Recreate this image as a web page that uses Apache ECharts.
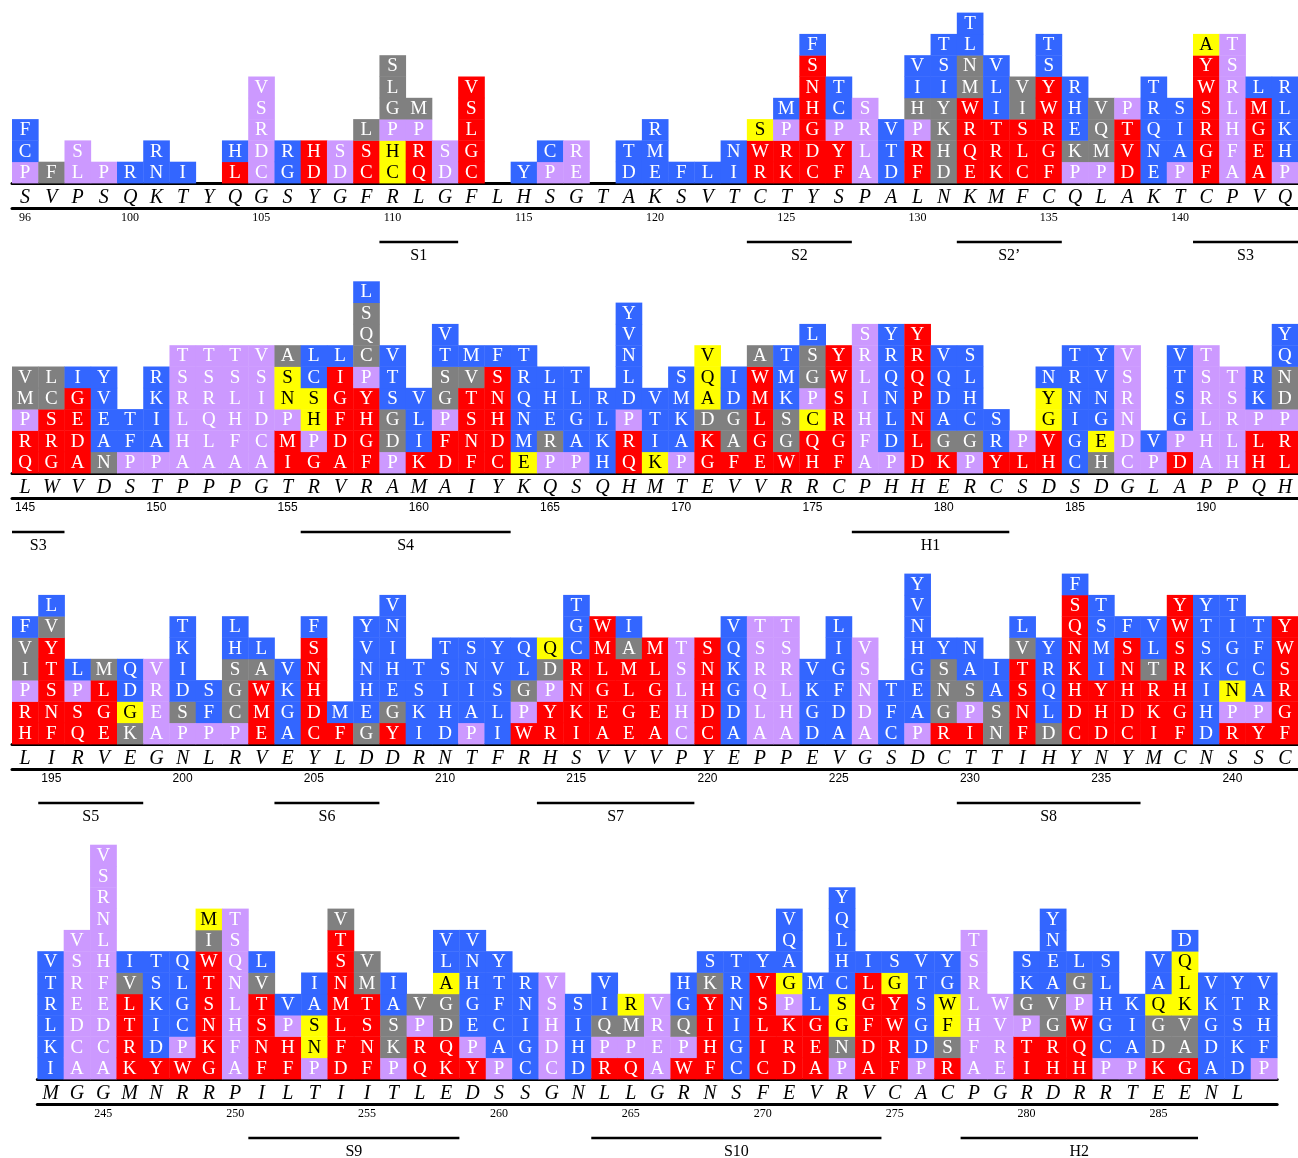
<!DOCTYPE html>
<html><head><meta charset="utf-8">
<script src="https://cdn.jsdelivr.net/npm/echarts/dist/echarts.min.js"></script>
<style>html,body{margin:0;padding:0;background:#fff}#c{width:1298px;height:1158px}</style>
</head><body><div id="c"></div>
<script>
// ---------- DATA ----------
const seq1 = "SVPSQKTYQGSYGFRLGFLHSGTAKSVTCTYSPALNKMFCQLAKTCPVQ".split("");
const seq2 = "LWVDSTPPPGTRVRAMAIYKQSQHMTEVVRRCPHHERCSDSDGLAPPQH".split("");
const seq3 = "LIRVEGNLRVEYLDDRNTFRHSVVVPYEPPEVGSDCTTIHYNYMCNSSC".split("");
const seq4 = "MGGMNRRPILTIITLEDSSGNLLGRNSFEVRVCACPGRDRRTEENL".split("").concat([""]);

const startRes = [96, 145, 194, 243];

const ticks1 = [96, 100, 105, 110, 115, 120, 125, 130, 135, 140];
const ticks2 = [145, 150, 155, 160, 165, 170, 175, 180, 185, 190];
const ticks3 = [195, 200, 205, 210, 215, 220, 225, 230, 235, 240];
const ticks4 = [245, 250, 255, 260, 265, 270, 275, 280, 285];

// stacks: letters bottom -> top, each letter followed by class code (b,r,p,g,y)
const stacks1 = ["Pp Cb Fb","Fg","Lp Sp","Pp","Rb","Nb Rb","Ib","","Lr Hb","Cp Dp Rp Sp Vp",
"Gb Rb","Dr Hr","Dp Sp","Cr Sr Lg","Cy Hy Pp Gg Lg Sg","Qr Rr Pp Mg","Dp Sp","Cr Gr Lr Sr Vr","","Yb",
"Pp Cb","Ep Rp","","Db Tb","Eb Mb Rb","Fb","Lb","Ib Nb","Rr Wr Sy","Kr Rr Pp Mb",
"Cr Dr Gr Hr Nr Sr Fb","Fr Yr Pp Cb Tb","Ap Lp Rp Sp","Db Tb Vb","Fr Rr Pp Hg Ib Vb","Dg Hg Kg Yg Ib Sb Tb","Er Qr Rr Wr Mg Ng Lb Tb","Kr Rr Tr Ib Lb Vb","Cr Lr Sr Ig Vg","Fr Gr Rr Wr Yr Sb Tb",
"Pp Kg Eb Hb Rb","Pp Mg Qg Vg","Dr Vr Tr Pp","Eb Nb Qb Rb Tb","Pp Ab Ib Sb","Fr Gr Rr Sr Wr Yr Ay","Ap Fp Hp Lp Rp Sp Tp","Ar Er Gr Mr Lb","Pp Hb Kb Lb Rb"];

const stacks2 = ["Qr Rr Pp Mg Vg","Gr Rr Sr Cg Lg","Ar Dr Er Gr Ib","Ng Ab Eb Vb Yb","Pp Fb Tb","Pp Ab Ib Kb Rb","Ap Hp Lp Rp Sp Tp","Ap Lp Qp Rp Sp Tp","Ap Fp Hp Lp Sp Tp","Ap Cp Dp Ip Sp Vp",
"Ir Mr Pp Ny Sy Ag","Gr Pp Hy Sy Cb Lb","Ar Dr Fr Gr Ir Lb","Fr Gr Hr Yr Pp Cg Qg Sg Lb","Pp Dg Gg Sb Tb Vb","Kr Ib Lb Vb","Dr Fr Pp Gg Sg Tb Vb","Fr Nr Sr Tr Vg Mb","Cr Dr Hr Nr Sr Fb","Ey Mb Nb Qb Rb Tb",
"Pp Rg Eb Hb Lb","Pp Ab Gb Lb Tb","Hb Kb Lb Rb","Qr Rr Pp Db Lb Nb Vb Yb","Ky Ib Tb Vb","Pp Ab Kb Mb Sb","Gr Kr Dg Ay Qy Vy","Fr Ag Gg Db Ib","Er Gr Lr Mr Wr Ag","Wr Gg Sg Kb Mb Tb",
"Hr Qr Cy Pp Gg Sg Lb","Fr Gr Rr Sr Wr Yr","Ap Fp Hp Ip Lp Rp Sp","Pp Db Lb Nb Qb Rb Yb","Dr Lr Nr Pr Qr Rr Yr","Kr Gg Ab Db Qb Vb","Pp Gg Cb Hb Lb Sb","Yr Rb Sb","Lr Pp","Hr Vr Gy Yy Nb",
"Cb Gb Ib Nb Rb Tb","Hg Ey Gb Nb Vb Yb","Cp Dp Np Rp Sp Vp","Pp Vb","Dr Pp Gb Sb Tb Vb","Ap Hp Lp Rp Sp Tp","Hp Lp Rp Sp Tp","Hr Lr Pp Kb Rb","Lr Rr Pp Dg Ng Qb Yb"];

const stacks3 = ["Hr Rr Pp Ig Vg Fb","Fr Nr Sr Tr Yr Vg Lb","Qr Sr Pp Lb","Er Gr Lr Mg","Kg Gy Db Qb","Ap Ep Rp Vp","Pp Sg Db Ib Kb Tb","Pp Fb Sb","Pp Cg Gg Sg Hb Lb","Er Mr Wr Ag Lb",
"Ab Gb Kb Vb","Cr Dr Hr Nr Sr Fb","Fr Mb","Gg Eb Hb Nb Vb Yb","Yr Gg Eb Hb Ib Nb Vb","Ib Kb Sb Tb","Db Hb Ib Sb Tb","Pp Ab Ib Nb Sb","Ib Lb Sb Vb Yb","Wr Pp Gg Lb Qb",
"Rr Yr Pp Dg Qy","Ir Kr Nr Rr Cb Gb Tb","Ar Er Gr Lr Mr Wr","Er Gr Lr Mr Ag Ib","Ar Er Gr Lr Mr","Cp Hp Lp Sp Tp","Cr Dr Hr Nr Sr","Ab Db Gb Kb Qb Vb","Ap Lp Qp Rp Sp Tp","Ap Hp Lp Rp Sp Tp",
"Db Gb Kb Vb","Ab Db Fb Gb Ib Lb","Ap Dp Np Sp Vp","Cb Fb Tb","Pp Ab Eb Gb Hb Nb Vb Yb","Rr Gg Ng Sg Yb","Ir Pp Sg Ab Nb","Ng Sg Ab Ib","Fr Nr Sr Tr Vg Lb","Dg Lb Qb Rb Yb",
"Cr Dr Hr Kr Nr Qr Sr Fb","Dr Hr Yr Ib Mb Sb Tb","Cr Dr Hr Nr Sr Fb","Ir Kr Rr Tg Lb Vb","Fr Gr Hr Rr Sr Wr Yr","Db Hb Ib Kb Sb Tb Yb","Rr Pp Ny Cb Gb Ib Tb","Yr Pp Ab Cb Fb Tb","Fr Gr Rr Sr Wr Yr"];

const stacks4 = ["Ib Kb Lb Rb Tb Vb","Ap Cp Dp Ep Rp Sp Vp","Ap Cp Dp Ep Fp Hp Lp Np Rp Sp Vp","Kr Rr Tr Lr Vg Ib","Yr Db Ib Kb Sb Tb","Wr Pp Cb Gb Lb Qb","Gr Kr Nr Sr Tr Wr Ig My","Ap Fp Hp Lp Np Qp Sp Tp","Fr Nr Sr Tr Vg Lb","Fr Hr Pp Vb",
"Pp Ny Sy Ab Ib","Dr Fr Lr Mr Nr Sr Tr Vg","Fr Nr Sr Tr Mg Vg","Pp Kg Sg Ab Ib","Qr Rr Pp Vg","Kr Qr Dg Gg Ay Lb Vb","Yr Pp Eb Gb Hb Nb Vb","Pp Ab Cb Fb Tb Yb","Cb Gb Ib Nb Rb","Cp Dp Hp Sp Vp",
"Db Hb Ib Sb","Rr Pp Qg Ib Vb","Qr Pp Mg Ry","Ap Ep Rp Vp","Wr Pp Qg Gb Hb","Fr Hr Ir Yr Kg Sb","Cb Gb Ib Nb Rb Tb","Cr Ir Lr Sr Vr Yb","Dr Rr Kr Pp Gy Ab Qb Vb","Ar Er Gr Lb Mb",
"Pp Ng Gy Sy Cb Hb Lb Qb Yb","Ar Dr Fr Gr Lr Ib","Fr Rr Wr Yr Gy Sb","Pp Db Gb Sb Tb Vb","Rr Sg Fy Wy Gb Yb","Ap Fp Hp Lp Rp Sp Tp","Ep Rp Vp Wp","Ir Tr Pp Gg Kb Sb","Hr Rr Gg Vg Ab Eb Nb Yb","Hr Qr Wr Pp Gg Lb",
"Pp Cb Gb Hb Lb Sb","Pp Ab Ib Kb","Kr Dg Gg Qy Ab Vb","Gr Ag Vg Ky Ly Qy Db","Ab Db Gb Kb Vb","Db Kb Sb Tb Yb","Pp Fb Hb Rb Vb"];

// secondary structure elements: [label, first residue, last residue]
const ss1 = [["S1", 110, 112], ["S2", 124, 127], ["S2\u2019", 132, 135], ["S3", 141, 144]];
const ss2 = [["S3", 145, 146], ["S4", 156, 163], ["H1", 177, 182]];
const ss3 = [["S5", 195, 198], ["S6", 204, 207], ["S7", 214, 219], ["S8", 230, 236]];
const ss4 = [["S9", 251, 258], ["S10", 264, 274], ["H2", 278, 286]];

// ---------- STYLE / LAYOUT ----------
const COLORS = { b: "#3366ff", r: "#ff0000", p: "#cc99ff", g: "#808080", y: "#ffff00" };
const SERIF = "'Liberation Serif', 'Times New Roman', serif";
const SANS = "'Liberation Sans', Arial, sans-serif";
const CELL_H = 21.3;
const layout = [
  { left: 12, cw: 26.34, base: 183, maxY: 8, tickFont: SERIF },
  { left: 12, cw: 26.34, base: 473, maxY: 9, tickFont: SANS },
  { left: 12, cw: 26.34, base: 744, maxY: 8, tickFont: SANS },
  { left: 37.3, cw: 26.38, base: 1079, maxY: 11, tickFont: SERIF }
];

const rowsData = [
  { seq: seq1, stacks: stacks1, ticks: ticks1, ss: ss1 },
  { seq: seq2, stacks: stacks2, ticks: ticks2, ss: ss2 },
  { seq: seq3, stacks: stacks3, ticks: ticks3, ss: ss3 },
  { seq: seq4, stacks: stacks4, ticks: ticks4, ss: ss4 }
];

const option = { animation: false, backgroundColor: "#fff", grid: [], xAxis: [], yAxis: [], series: [] };

rowsData.forEach((row, i) => {
  const L = layout[i];
  const n = row.stacks.length;
  const start = startRes[i];
  const nums = row.stacks.map((_, k) => String(start + k));
  const tickSet = new Set(row.ticks.map(String));

  option.grid.push({ left: L.left, top: L.base - L.maxY * CELL_H, width: n * L.cw, height: L.maxY * CELL_H });
  option.xAxis.push({
    type: "category", gridIndex: i, data: row.seq.slice(0, n), boundaryGap: true,
    axisLine: { show: true, lineStyle: { color: "#000", width: 3 } },
    axisTick: { show: false }, splitLine: { show: false },
    axisLabel: { interval: 0, margin: 5, fontFamily: SERIF, fontStyle: "italic", fontSize: 20, color: "#000" }
  });
  option.xAxis.push({
    type: "category", gridIndex: i, data: nums, boundaryGap: true, position: "bottom", offset: 25,
    axisLine: { show: true, lineStyle: { color: "#000", width: 3 } },
    axisTick: { show: false }, splitLine: { show: false },
    axisLabel: { interval: 0, margin: 4, fontFamily: L.tickFont, fontSize: 12, color: "#000",
      formatter: v => tickSet.has(v) ? v : "" }
  });
  option.yAxis.push({ type: "value", gridIndex: i, min: 0, max: L.maxY, show: false });

  const cells = [];
  const cellInfo = [];
  row.stacks.forEach((s, col) => {
    if (!s) return;
    s.split(" ").forEach((tok, lv) => {
      cells.push([col, lv]);
      cellInfo.push({ ch: tok[0], c: tok[1] });
    });
  });

  option.series.push({
    type: "custom", xAxisIndex: 2 * i, yAxisIndex: i, z: 3, clip: false,
    data: cells,
    renderItem: (params, api) => {
      const col = api.value(0), lv = api.value(1);
      const p0 = api.coord([col, lv]);
      const p1 = api.coord([col, lv + 1]);
      const w = api.size([1, 0])[0];
      const info = cellInfo[params.dataIndex];
      const x = p0[0] - w / 2;
      return {
        type: "group",
        children: [
          { type: "rect", shape: { x: x, y: p1[1], width: w + 0.4, height: p0[1] - p1[1] + 0.4 },
            style: { fill: COLORS[info.c] } },
          { type: "text", style: { text: info.ch, x: p0[0], y: (p0[1] + p1[1]) / 2 + 0.5,
            align: "center", verticalAlign: "middle", fontFamily: SERIF, fontSize: 19,
            fill: info.c === "y" ? "#000" : "#fff" } }
        ]
      };
    }
  });

  const ssData = row.ss.map(e => [e[1] - start, 0, e[2] - start]);
  option.series.push({
    type: "custom", xAxisIndex: 2 * i, yAxisIndex: i, z: 3, clip: false,
    data: ssData,
    renderItem: (params, api) => {
      const a = api.coord([api.value(0), 0]);
      const b = api.coord([api.value(2), 0]);
      const w = api.size([1, 0])[0];
      const x1 = a[0] - w / 2, x2 = b[0] + w / 2;
      const y = a[1] + 59;
      return {
        type: "group",
        children: [
          { type: "line", shape: { x1: x1, y1: y, x2: x2, y2: y }, style: { stroke: "#000", lineWidth: 2.5 } },
          { type: "text", style: { text: row.ss[params.dataIndex][0], x: (x1 + x2) / 2, y: y + 14,
            align: "center", verticalAlign: "middle", fontFamily: SERIF, fontSize: 16, fill: "#000" } }
        ]
      };
    }
  });
});

const chart = echarts.init(document.getElementById("c"), null, { renderer: "canvas" });
chart.setOption(option);
</script>
</body></html>
